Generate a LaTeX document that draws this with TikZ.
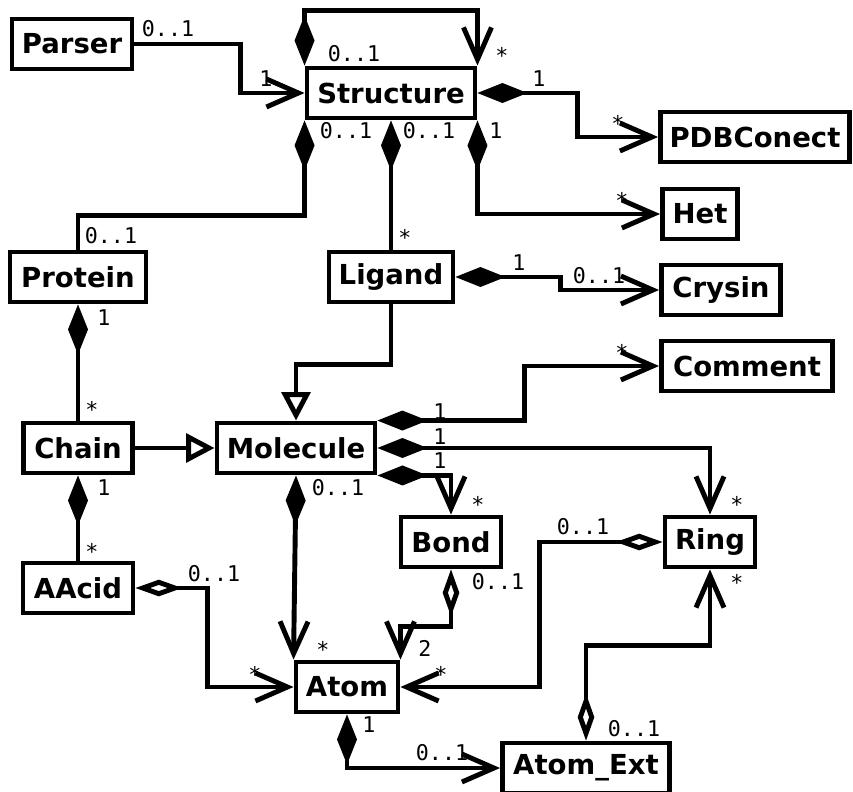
\documentclass[tikz,border=0pt]{standalone}
\usepackage{fontspec}
\setmainfont{DejaVu Sans}
\setmonofont{DejaVu Sans Mono}
\usetikzlibrary{arrows.meta}

\begin{document}
\begin{tikzpicture}[
  x=0.03cm, y=-0.03cm,
  line width=4.2pt,
  cls/.style={draw, minimum height=1.5cm, inner xsep=2pt, font=\bfseries\fontsize{23.5}{26}\selectfont},
  mult/.style={font=\ttfamily\fontsize{18.5}{20}\selectfont, inner sep=0pt},
  comp/.style={{Diamond[length=1.5cm, width=0.6cm]}-{Straight Barb[length=0.96cm, width=0.84cm]}},
  agg/.style={{Diamond[open, length=1.4cm, width=0.5cm]}-{Straight Barb[length=0.96cm, width=0.84cm]}},
  part/.style={{Diamond[length=1.5cm, width=0.6cm]}-},
  nav/.style={-{Straight Barb[length=0.96cm, width=0.84cm]}},
  inherit/.style={-{Triangle[open, length=0.85cm, width=0.85cm]}}
]
\useasboundingbox (0,0) rectangle (853,791);

% classes
\foreach \n/\x/\y/\w/\t in {parser/72/44/3.6/Parser, struct/391/93/5.04/Structure,
    pdb/755/137/5.67/PDBConect, het/700/214/2.25/Het, protein/78/277/4.08/Protein,
    ligand/391/277/3.72/Ligand, crysin/721/290/3.57/Crysin, comment/747/366/5.13/Comment,
    chain/78/448/3.27/Chain, molecule/296/448/4.74/Molecule, bond/451/542/3.0/Bond,
    ring/710/542/2.7/Ring, aacid/78/588/3.3/AAcid, atom/347/687/3.06/Atom,
    atomext/586/768/5.01/Atom\_Ext} {
  \node[cls, minimum width=\w cm] (\n) at (\x,\y) {\t};
}

% associations
\draw[nav] (parser.east) -- ++(106,0) |- (struct.west);
\draw[comp] (struct.north west) -- ++(0,-55) -| (struct.north east);
\draw[comp] (struct.east) -- ++(100,0) |- (pdb.west);
\draw[comp] (struct.south east) |- (het.west);
\draw[part] (struct.south west) -- ++(0,95) -| (protein.north);
\draw[part] (struct.south) -- (ligand.north);
\draw[comp] (ligand.east) -- ++(105,0) |- (crysin.west);
\draw[part] (protein.south) -- (chain.north);
\draw[part] (chain.south) -- (aacid.north);
\draw[inherit] (ligand.south) -- ++(0,60) -| (molecule.north);
\draw[inherit] (chain.east) -- (molecule.west);
\draw[comp] (molecule.north east) -- ++(147,0) |- (comment.west);
\draw[comp] (molecule.east) -| (ring.north);
\draw[comp] (molecule.south east) -| (bond.north);
\draw[comp] (molecule.south) -- (atom.north west);
\draw[agg] (aacid.east) -- ++(72,0) |- (atom.west);
\draw[agg] (bond.south) -- ++(0,57) -| (atom.north east);
\draw[agg] (ring.west) -- ++(-123,0) |- (atom.east);
\draw[agg] (atomext.north) -- ++(0,-95) -| (ring.south);
\draw[comp] (atom.south) |- (atomext.west);

% multiplicities
\foreach \x/\y/\t [count=\i] in {168/29/0..1, 266/79/1, 354/54/0..1, 502/55/*, 539/79/1,
    618/123/*, 346/131/0..1, 429/131/0..1, 496/131/1, 622/200/*, 111/236/0..1, 405/237/*,
    519/263/1, 599/276/0..1, 104/318/1, 622/352/*, 92/409/*, 440/412/1, 440/437/1,
    440/461/1, 104/488/1, 338/488/0..1, 478/504/*, 737/504/*, 583/527/0..1, 92/551/*,
    214/574/0..1, 737/582/*, 498/582/0..1, 323/649/*, 425/648/2, 255/674/*, 441/674/*,
    369/725/1, 634/729/0..1, 442/753/0..1} {
  \node[mult] (m\i) at (\x,\y) {\t};
}
\end{tikzpicture}
\end{document}
